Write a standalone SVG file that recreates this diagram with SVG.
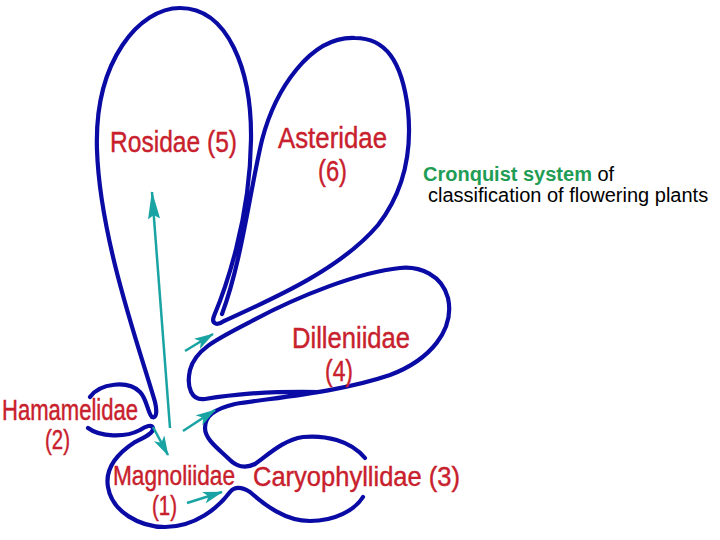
<svg xmlns="http://www.w3.org/2000/svg" width="720" height="540" viewBox="0 0 720 540">
<defs>
<style>
.o{fill:none;stroke:#0a0aa5;stroke-width:4.2;stroke-linecap:round;stroke-linejoin:round}
.lb{font-family:"Liberation Sans",Arial,sans-serif;fill:#c8202c;stroke:#c8202c;stroke-width:0.35}
.ar{stroke:#1aa3a3;stroke-width:2.5;fill:none}
.t{font-family:"Liberation Sans",Arial,sans-serif;font-size:20px;fill:#000}
</style>
<marker id="ah" viewBox="0 0 20 12" refX="19" refY="6" markerWidth="20" markerHeight="12" orient="auto" markerUnits="userSpaceOnUse">
<path d="M0,0 L20,6 L0,12 L5,6 Z" fill="#1aa3a3"/>
</marker>
<marker id="ahl" viewBox="0 0 28 12" refX="27" refY="6" markerWidth="28" markerHeight="12" orient="auto" markerUnits="userSpaceOnUse">
<path d="M0,0 L28,6 L0,12 L4,6 Z" fill="#1aa3a3"/>
</marker>
</defs>
<rect width="720" height="540" fill="#fff"/>
<g id="rosidae">
<path class="o" d="M90,397 C100,383 128,380 140,392 C147,399 148,414 152,417 C157,419 157,410 155,402 C140,350 100,240 97,150 C94,60 140,8 180,8 C228,8 252,70 251,140 C250,220 225,290 214,316 C211,324 217,326 224,321 C270,300 340,270 378,225 C405,190 412,150 408,110 C402,60 385,38 355,38 C310,36 275,90 262,140 C250,190 242,260 222,314"/>
<text class="lb" font-size="24.6" transform="translate(110,152) scale(1,1.22)" textLength="127" lengthAdjust="spacingAndGlyphs">Rosidae (5)</text>
</g>
<g id="asteridae">
<text class="lb" font-size="25.5" transform="translate(278,148) scale(1,1.17)" textLength="109" lengthAdjust="spacingAndGlyphs">Asteridae</text>
<text class="lb" font-size="23.5" transform="translate(318,181) scale(1,1.26)" textLength="29" lengthAdjust="spacingAndGlyphs">(6)</text>
</g>
<g id="dilleniidae">
<path class="o" d="M365,458 C350,440 325,435 303,437 C283,440 268,455 255,464 C245,469 236,466 230,460 C220,450 205,440 205,428 C205,416 214,409 235,404 C280,397 340,392 390,375 C430,360 455,330 448,298 C442,275 420,266 400,268 C360,272 300,295 250,322 C215,340 195,350 190,370 C186,388 192,401 205,399 C230,395 260,391 320,392"/>
<text class="lb" font-size="25.3" transform="translate(292,348) scale(1,1.18)" textLength="118" lengthAdjust="spacingAndGlyphs">Dilleniidae</text>
<text class="lb" font-size="23" transform="translate(325,381) scale(1,1.28)" textLength="28" lengthAdjust="spacingAndGlyphs">(4)</text>
</g>
<g id="hamamelidae">
<text class="lb" font-size="22" transform="translate(2,420) scale(1,1.3)" textLength="136" lengthAdjust="spacingAndGlyphs">Hamamelidae</text>
<text class="lb" font-size="21" transform="translate(45,449) scale(1,1.36)" textLength="25" lengthAdjust="spacingAndGlyphs">(2)</text>
</g>
<g id="magnoliidae">
<path class="o" d="M88,428 C100,437 125,438 140,430 C146,426 152,424 153,428 C154,433 145,437 135,442 C115,455 105,470 108,487 C112,512 140,527 165,527 C195,527 218,508 230,492 C235,486 242,487 250,492 C265,505 285,521 310,521 C335,521 355,510 363,497"/>
<text class="lb" font-size="22.5" transform="translate(113,485) scale(1,1.22)" textLength="122" lengthAdjust="spacingAndGlyphs">Magnoliidae</text>
<text class="lb" font-size="20" transform="translate(152,515) scale(1,1.35)" textLength="25" lengthAdjust="spacingAndGlyphs">(1)</text>
</g>
<g id="caryophyllidae">
<text class="lb" font-size="24" transform="translate(253,486) scale(1,1.15)" textLength="207" lengthAdjust="spacingAndGlyphs">Caryophyllidae (3)</text>
</g>
<g id="connectors">
<line class="ar" x1="170" y1="428" x2="152" y2="192" marker-end="url(#ahl)"/>
<line class="ar" x1="153" y1="427" x2="168" y2="455" marker-end="url(#ah)"/>
<line class="ar" x1="185" y1="351" x2="213" y2="334" marker-end="url(#ah)"/>
<line class="ar" x1="183" y1="431" x2="215" y2="410" marker-end="url(#ah)"/>
<line class="ar" x1="187" y1="503" x2="222" y2="492" marker-end="url(#ah)"/>
</g>
<g id="caption">
<text class="t" x="423" y="181"><tspan fill="#1f9d55" font-weight="bold">Cronquist system</tspan> of</text>
<text class="t" x="428" y="202">classification of flowering plants</text>
</g>
</svg>
